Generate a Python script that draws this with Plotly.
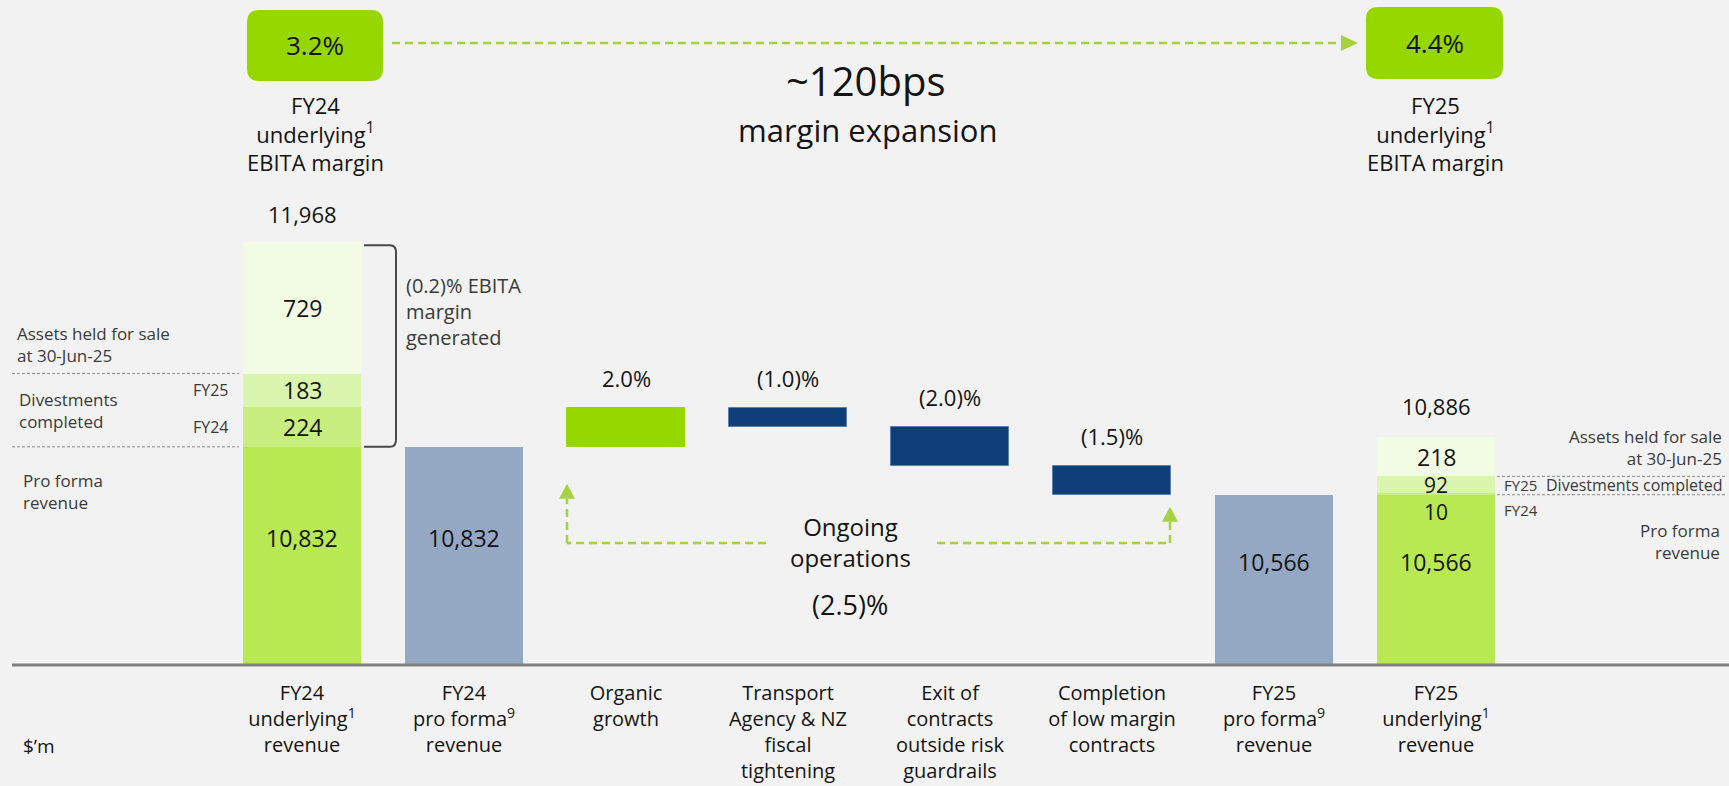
import plotly.graph_objects as go

# ---------------- data ----------------
categories = [
    "FY24<br>underlying<sup>1</sup><br>revenue",
    "FY24<br>pro forma<sup>9</sup><br>revenue",
    "Organic<br>growth",
    "Transport<br>Agency &amp; NZ<br>fiscal<br>tightening",
    "Exit of<br>contracts<br>outside risk<br>guardrails",
    "Completion<br>of low margin<br>contracts",
    "FY25<br>pro forma<sup>9</sup><br>revenue",
    "FY25<br>underlying<sup>1</sup><br>revenue",
]

fy24_pro_forma = 10832
fy24_div_fy24 = 224
fy24_div_fy25 = 183
fy24_held_for_sale = 729
fy24_total = 11968

fy25_pro_forma = 10566
fy25_div_fy24 = 10
fy25_div_fy25 = 92
fy25_held_for_sale = 218
fy25_total = 10886

bridge_labels = ["2.0%", "(1.0)%", "(2.0)%", "(1.5)%"]
bridge_deltas = [217, -108, -217, -158]   # $m

fy24_margin = "3.2%"
fy25_margin = "4.4%"
margin_expansion = "~120bps"
divest_margin = "(0.2)%"
ongoing_total = "(2.5)%"

# ---------------- style / geometry ----------------
W, H = 1729, 786
B = 121
PH = H - B
Y_LO = 9620
K = 0.18                       # px per $m
Y_HI = Y_LO + PH / K
SPACING = 162
X0 = -302 / SPACING
X_RANGE = [X0, X0 + W / SPACING]

BG = "#F2F2F2"
C_PF = "#B8E852"
C_D24 = "#C8EE7F"
C_D25 = "#DAF5AD"
C_HELD = "#F1FCE3"
C_BLUE = "#94A8C4"
C_DARK = "#0E3F78"
C_LIME = "#97D700"
C_DASH = "#A6D23F"
FONT = "Open Sans"
TXT = "#141414"
GREY = "#3a3a3a"


def fx(p):
    return p / W


def fy(p):
    return (PH - p) / PH


def v2px(v):
    return PH - (v - Y_LO) * K


fig = go.Figure()

bar_w = 0.73
common = dict(width=bar_w, hoverinfo="skip", showlegend=False)

# underlying stacks
fig.add_trace(go.Bar(x=[categories[0], categories[7]], y=[fy24_pro_forma, fy25_pro_forma],
                     marker=dict(color=C_PF, line=dict(width=0)), **common))
b1 = [fy24_pro_forma, fy25_pro_forma]
fig.add_trace(go.Bar(x=[categories[0], categories[7]], y=[fy24_div_fy24, fy25_div_fy24], base=b1,
                     marker=dict(color=C_D24, line=dict(width=0)), **common))
b2 = [b1[0] + fy24_div_fy24, b1[1] + fy25_div_fy24]
fig.add_trace(go.Bar(x=[categories[0], categories[7]], y=[fy24_div_fy25, fy25_div_fy25], base=b2,
                     marker=dict(color=C_D25, line=dict(width=0)), **common))
b3 = [b2[0] + fy24_div_fy25, b2[1] + fy25_div_fy25]
fig.add_trace(go.Bar(x=[categories[0], categories[7]], y=[fy24_held_for_sale, fy25_held_for_sale], base=b3,
                     marker=dict(color=C_HELD, line=dict(width=0)), **common))
# pro forma (blue)
fig.add_trace(go.Bar(x=[categories[1], categories[6]], y=[fy24_pro_forma, fy25_pro_forma],
                     marker=dict(color=C_BLUE, line=dict(width=0)), **common))

# bridge
running = fy24_pro_forma
bases, tops, bottoms = [], [], []
for d in bridge_deltas:
    bases.append(running)
    tops.append(max(running, running + d))
    bottoms.append(min(running, running + d))
    running += d
fig.add_trace(go.Bar(x=categories[2:6], y=bridge_deltas, base=bases,
                     marker=dict(color=[C_LIME if d > 0 else C_DARK for d in bridge_deltas],
                                 line=dict(width=1, color=[C_LIME if d > 0 else "#5b7fae" for d in bridge_deltas])),
                     **common))

ann = []


def A(text, x, y, xref="paper", yref="paper", size=20, color=TXT, xanchor="center", yanchor="middle",
      align="center", yshift=0, xshift=0):
    ann.append(dict(text=text, x=x, y=y, xref=xref, yref=yref, showarrow=False,
                    font=dict(size=size, color=color, family=FONT), xanchor=xanchor, yanchor=yanchor,
                    align=align, yshift=yshift, xshift=xshift))


VS = 23
# bar value labels
A(f"{fy24_pro_forma:,}", categories[0], (Y_LO + fy24_pro_forma) / 2, "x", "y", size=VS, yshift=18)
A(f"{fy24_pro_forma:,}", categories[1], (Y_LO + fy24_pro_forma) / 2, "x", "y", size=VS, yshift=18)
A(f"{fy25_pro_forma:,}", categories[6], (Y_LO + fy25_pro_forma) / 2, "x", "y", size=VS, yshift=18)
A(f"{fy25_pro_forma:,}", categories[7], (Y_LO + fy25_pro_forma) / 2, "x", "y", size=VS, yshift=18)
A(f"{fy24_div_fy24:,}", categories[0], b1[0] + fy24_div_fy24 / 2, "x", "y", size=VS)
A(f"{fy24_div_fy25:,}", categories[0], b2[0] + fy24_div_fy25 / 2, "x", "y", size=VS)
A(f"{fy24_held_for_sale:,}", categories[0], b3[0] + fy24_held_for_sale / 2, "x", "y", size=VS)
A(f"{fy25_div_fy24:,}", categories[7], b1[1], "x", "y", size=VS - 2, yanchor="top", yshift=-1)
A(f"{fy25_div_fy25:,}", categories[7], b2[1] + fy25_div_fy25 / 2, "x", "y", size=VS - 2)
A(f"{fy25_held_for_sale:,}", categories[7], b3[1] + fy25_held_for_sale / 2, "x", "y", size=VS)
A(f"{fy24_total:,}", categories[0], fy24_total, "x", "y", size=22, yanchor="bottom", yshift=11)
A(f"{fy25_total:,}", categories[7], fy25_total, "x", "y", size=22, yanchor="bottom", yshift=14)

for i, lab in enumerate(bridge_labels):
    A(lab, categories[2 + i], tops[i], "x", "y", size=22, yanchor="bottom", yshift=13)

# left side notes
A("Assets held for sale<br>at 30-Jun-25", fx(15), b3[0], "paper", "y", size=17, color=GREY,
  xanchor="left", yanchor="bottom", align="left", yshift=5)
A("FY25", fx(231), b2[0] + fy24_div_fy25 / 2, "paper", "y", size=16, color=GREY, xanchor="right")
A("Divestments<br>completed", fx(17), (b1[0] + b3[0]) / 2, "paper", "y", size=17, color=GREY,
  xanchor="left", align="left")
A("FY24", fx(231), b1[0] + fy24_div_fy24 / 2, "paper", "y", size=16, color=GREY, xanchor="right")
A("Pro forma<br>revenue", fx(21), fy24_pro_forma, "paper", "y", size=17, color=GREY,
  xanchor="left", yanchor="top", align="left", yshift=-20)
A(f"{divest_margin} EBITA<br>margin<br>generated", fx(404), fy24_total, "paper", "y", size=20, color=GREY,
  xanchor="left", yanchor="top", align="left", yshift=-28)

# right side notes
A("Assets held for sale<br>at 30-Jun-25", fx(1724), b3[1], "paper", "y", size=17, color=GREY,
  xanchor="right", yanchor="bottom", align="right", yshift=4)
A("FY25", fx(1502), b2[1] + fy25_div_fy25 / 2, "paper", "y", size=15, color=GREY, xanchor="left")
A("Divestments completed", fx(1724), b2[1] + fy25_div_fy25 / 2, "paper", "y", size=16, color=GREY,
  xanchor="right")
A("FY24", fx(1502), b1[1], "paper", "y", size=15, color=GREY, xanchor="left", yanchor="top", yshift=-3)
A("Pro forma<br>revenue", fx(1722), b1[1], "paper", "y", size=17, color=GREY,
  xanchor="right", yanchor="top", align="right", yshift=-22)

# top margin boxes
A(fy24_margin, fx(315), fy(45), size=26)
A(fy25_margin, fx(1435), fy(43), size=26)
A("FY24<br>underlying<sup>1</sup><br>EBITA margin", fx(315), fy(88), size=22, yanchor="top")
A("FY25<br>underlying<sup>1</sup><br>EBITA margin", fx(1435), fy(88), size=22, yanchor="top")
A(margin_expansion, fx(866), fy(81), size=40)
A("margin expansion", fx(867), fy(130), size=31)

# ongoing operations
A("Ongoing<br>operations", fx(850), fy(542), size=24)
A(ongoing_total, fx(850), fy(604), size=27)
A("$’m", fx(21), fy(746), size=19, xanchor="left")

shapes = []


def rrect(x0, y0, x1, y1, r, color):
    rx, ry = r / W, r / PH
    X0_, X1_ = fx(x0), fx(x1)
    Yt, Yb = fy(y0), fy(y1)
    path = (f"M {X0_ + rx},{Yt} L {X1_ - rx},{Yt} Q {X1_},{Yt} {X1_},{Yt - ry} "
            f"L {X1_},{Yb + ry} Q {X1_},{Yb} {X1_ - rx},{Yb} L {X0_ + rx},{Yb} "
            f"Q {X0_},{Yb} {X0_},{Yb + ry} L {X0_},{Yt - ry} Q {X0_},{Yt} {X0_ + rx},{Yt} Z")
    shapes.append(dict(type="path", path=path, xref="paper", yref="paper",
                       fillcolor=color, line=dict(width=0), layer="below"))


rrect(247, 10, 383, 81, 12, C_LIME)
rrect(1366, 7, 1503, 79, 12, C_LIME)


def line(x0, y0, x1, y1, color=C_DASH, width=2.5, dash="8px,5px", xref="paper", yref="paper"):
    shapes.append(dict(type="line", x0=x0, y0=y0, x1=x1, y1=y1, xref=xref, yref=yref,
                       line=dict(color=color, width=width, dash=dash)))


def tri(pts, color=C_DASH):
    p = "M " + " L ".join(f"{fx(a)},{fy(b)}" for a, b in pts) + " Z"
    shapes.append(dict(type="path", path=p, xref="paper", yref="paper", fillcolor=color,
                       line=dict(width=0)))


# top arrow
line(fx(392), fy(43), fx(1342), fy(43))
tri([(1341, 35), (1358, 43), (1341, 51)])

# ongoing operations elbows
left_tip = v2px(bottoms[0]) + 37
right_tip = v2px(bottoms[3]) + 12
line(fx(766), fy(543), fx(567), fy(543))
line(fx(567), fy(543), fx(567), fy(left_tip + 15))
tri([(559, left_tip + 15), (575, left_tip + 15), (567, left_tip)])
line(fx(937), fy(543), fx(1170), fy(543))
line(fx(1170), fy(543), fx(1170), fy(right_tip + 15))
tri([(1162, right_tip + 15), (1178, right_tip + 15), (1170, right_tip)])

# dashed separators
for yv in (b3[0], b1[0]):
    line(fx(12), yv, fx(239), yv, color="#8a8a8a", width=1, dash="3px,2px", yref="y")
for yv in (b3[1], b1[1]):
    line(fx(1497), yv, fx(1726), yv, color="#8a8a8a", width=1, dash="3px,2px", yref="y")

# bracket
d = 7 / K
bx0, bx1, bxm = fx(364), fx(396), fx(390)
bpath = (f"M {bx0},{fy24_total - 3 / K} L {bxm},{fy24_total - 3 / K} Q {bx1},{fy24_total - 3 / K} {bx1},{fy24_total - 3 / K - d} "
         f"L {bx1},{fy24_pro_forma + d} Q {bx1},{fy24_pro_forma} {bxm},{fy24_pro_forma} L {bx0},{fy24_pro_forma}")
shapes.append(dict(type="path", path=bpath, xref="paper", yref="y", line=dict(color="#4a4a4a", width=2)))

# baseline
shapes.append(dict(type="line", x0=fx(12), x1=1, y0=0, y1=0, xref="paper", yref="paper",
                   line=dict(color="#7f7f7f", width=3)))

fig.update_layout(
    width=W, height=H, autosize=False,
    margin=dict(l=0, r=0, t=0, b=B, pad=0, autoexpand=False),
    paper_bgcolor=BG, plot_bgcolor=BG,
    barmode="overlay", bargap=0,
    font=dict(family=FONT, color=TXT),
    annotations=ann, shapes=shapes,
    xaxis=dict(range=X_RANGE, categoryorder="array", categoryarray=categories, automargin=False,
               showgrid=False, zeroline=False, showline=False, ticks="",
               tickfont=dict(size=20, color=TXT, family=FONT), ticklabelstandoff=14, fixedrange=True),
    yaxis=dict(range=[Y_LO, Y_HI], visible=False, fixedrange=True, automargin=False),
)

fig.write_html("out.html", config={"displayModeBar": False},
               post_script="document.body.style.margin='0';document.body.style.overflow='hidden';")
